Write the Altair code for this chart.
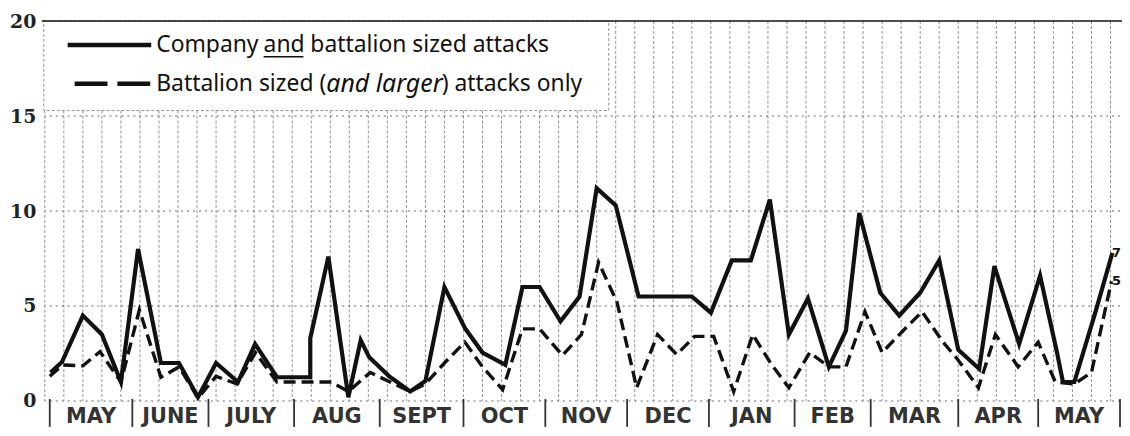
import altair as alt
import pandas as pd

# ---- data (x = week index from the start of May) ----
solid_week = [0.3, 0.9, 2.0, 3.0, 4.0, 4.9, 6.1, 7.05, 8.05, 9.0, 10.15, 11.05, 12.2, 13.95, 13.95,
              14.9, 15.95, 16.6, 17.05, 18.1, 19.2, 20.0, 21.0, 22.1, 23.0, 24.2, 25.1, 26.0, 27.1,
              28.1, 29.0, 30.0, 31.2, 32.0, 33.0, 34.0, 35.0, 36.1, 37.1, 38.1, 39.1, 40.1, 41.2,
              42.1, 42.8, 43.9, 44.9, 46.0, 47.0, 48.0, 49.1, 49.9, 51.2, 52.3, 53.2, 53.5, 54.1,
              55.2, 56.1]
solid_val = [1.5, 2.05, 4.5, 3.5, 1.0, 8.0, 2.0, 2.0, 0.2, 2.0, 1.0, 3.0, 1.25, 1.25, 3.3,
             7.6, 0.2, 3.2, 2.3, 1.3, 0.5, 1.05, 6.0, 3.8, 2.55, 1.9, 6.0, 6.0, 4.2,
             5.5, 11.2, 10.3, 5.5, 5.5, 5.5, 5.5, 4.65, 7.4, 7.4, 10.6, 3.5, 5.4, 1.8,
             3.7, 9.9, 5.7, 4.5, 5.7, 7.4, 2.7, 1.7, 7.1, 3.0, 6.6, 2.5, 1.0, 1.0,
             4.65, 7.8]

dash_week = [0.26, 0.94, 2.0, 2.9, 4.0, 4.97, 6.1, 7.06, 8.05, 9.0, 10.1, 11.07, 12.2, 15.06,
             15.95, 17.1, 19.2, 20.0, 21.0, 22.07, 23.0, 24.06, 25.1, 26.0, 27.2, 28.2, 29.1,
             30.07, 31.1, 32.2, 33.2, 34.15, 35.15, 36.2, 37.2, 38.2, 39.1, 40.2, 41.2, 42.1,
             43.1, 44.0, 45.1, 46.1, 47.2, 47.96, 49.06, 49.95, 51.15, 52.2, 53.1, 54.1, 55.0,
             56.05]
dash_val = [1.3, 1.9, 1.85, 2.6, 1.0, 4.8, 1.25, 1.8, 0.15, 1.3, 0.9, 2.55, 1.0, 1.0,
            0.5, 1.5, 0.5, 0.9, 2.0, 3.1, 1.8, 0.6, 3.8, 3.8, 2.4, 3.5, 7.3,
            5.2, 0.7, 3.5, 2.45, 3.4, 3.4, 0.5, 3.5, 1.9, 0.7, 2.55, 1.8, 1.8,
            4.7, 2.55, 3.7, 4.7, 3.1, 2.2, 0.7, 3.5, 1.8, 3.1, 1.0, 0.9, 1.5,
            6.3]

months = ["MAY", "JUNE", "JULY", "AUG", "SEPT", "OCT", "NOV", "DEC",
          "JAN", "FEB", "MAR", "APR", "MAY"]
month_edges = [0.26, 4.6, 8.6, 13.1, 17.6, 22.0, 26.3, 30.6, 34.9, 39.4, 43.4, 48.0, 52.2, 56.5]
grid_weeks = list(range(0, 57))
y_ticks = [0, 5, 10, 15, 20]
h_grid = [0, 5, 10, 15]
end_labels = ["7", "5"]

# ---- tables ----
solid_df = pd.DataFrame({"week": solid_week, "value": solid_val, "i": range(len(solid_week))})
dash_df = pd.DataFrame({"week": dash_week, "value": dash_val, "i": range(len(dash_week))})
month_df = pd.DataFrame({
    "m": months,
    "c": [(a + b) / 2 for a, b in zip(month_edges[:-1], month_edges[1:])],
})
edge_df = pd.DataFrame({"e": month_edges})
grid_df = pd.DataFrame({"week": grid_weeks})
hgrid_df = pd.DataFrame({"y": h_grid})
top_df = pd.DataFrame({"y": [20]})
end_df = pd.DataFrame({"value": [solid_val[-1], dash_val[-1]], "t": end_labels})
one = pd.DataFrame({"a": [0]})

W, H = 1081, 382
xs = alt.Scale(domain=[0, 56.5], nice=False, zero=False)
ys = alt.Scale(domain=[0, 20], nice=False)

vgrid = alt.Chart(grid_df).mark_rule(color="#777", strokeWidth=0.8, strokeDash=[3, 2]).encode(
    x=alt.X("week:Q", scale=xs, axis=None))

hgrid = alt.Chart(hgrid_df).mark_rule(color="#555", strokeWidth=0.9, strokeDash=[2, 4]).encode(
    y=alt.Y("y:Q", scale=ys,
            axis=alt.Axis(values=y_ticks, labelFont="DejaVu Serif", labelFontWeight="bold",
                          labelFontSize=19, labelColor="#222", ticks=False, domain=False,
                          grid=False, labelPadding=9, title=None)))

legend_box = alt.Chart(one).mark_rect(fill="white", stroke="#777", strokeWidth=0.8,
                                      strokeDash=[3, 2]).encode(
    x=alt.value(-1), x2=alt.value(567), y=alt.value(0), y2=alt.value(90))

top_rule = alt.Chart(top_df).mark_rule(color="#111", strokeWidth=1.6).encode(
    y=alt.Y("y:Q", scale=ys), x=alt.value(-3), x2=alt.value(W + 2))

solid = alt.Chart(solid_df).mark_line(color="#111", strokeWidth=4.2, strokeJoin="miter").encode(
    x=alt.X("week:Q", scale=xs), y=alt.Y("value:Q", scale=ys), order="i:Q")

dashed = alt.Chart(dash_df).mark_line(color="#111", strokeWidth=3.4, strokeDash=[12, 6]).encode(
    x=alt.X("week:Q", scale=xs), y=alt.Y("value:Q", scale=ys), order="i:Q")

end_text = alt.Chart(end_df).mark_text(align="left", baseline="middle", font="DejaVu Sans",
                                       fontWeight="bold", fontSize=13, color="#111").encode(
    x=alt.value(W - 8), y=alt.Y("value:Q", scale=ys), text="t:N")

month_text = alt.Chart(month_df).mark_text(baseline="middle", font="DejaVu Sans", fontWeight="bold",
                                           fontSize=21, color="#333").encode(
    x=alt.X("c:Q", scale=xs), y=alt.value(H + 16), text="m:N")

month_sep = alt.Chart(edge_df).mark_rule(color="#333", strokeWidth=1.8).encode(
    x=alt.X("e:Q", scale=xs), y=alt.value(H - 2), y2=alt.value(H + 26))

# legend samples and text
leg_solid = alt.Chart(one).mark_rule(color="#111", strokeWidth=4.5).encode(
    x=alt.value(23), x2=alt.value(107), y=alt.value(24))
leg_dash = alt.Chart(one).mark_rule(color="#111", strokeWidth=4.5, strokeDash=[33, 10]).encode(
    x=alt.value(30), x2=alt.value(106), y=alt.value(63))

tf = dict(baseline="middle", align="left", font="Noto Sans", fontSize=23, color="#111")
t1 = alt.Chart(one).mark_text(**tf).encode(x=alt.value(112), y=alt.value(24), text=alt.value("Company"))
t2 = alt.Chart(one).mark_text(**tf).encode(x=alt.value(220), y=alt.value(24), text=alt.value("and"))
u2 = alt.Chart(one).mark_rule(color="#111", strokeWidth=1.5).encode(
    x=alt.value(220), x2=alt.value(260), y=alt.value(36))
t3 = alt.Chart(one).mark_text(**tf).encode(x=alt.value(267), y=alt.value(24),
                                          text=alt.value("battalion sized attacks"))
t4 = alt.Chart(one).mark_text(**tf).encode(x=alt.value(112), y=alt.value(63),
                                          text=alt.value("Battalion sized ("))
tf_i = dict(tf, fontSize=25, fontStyle="italic")
t5 = alt.Chart(one).mark_text(**tf_i).encode(x=alt.value(283), y=alt.value(63),
                                            text=alt.value("and larger"))
t6 = alt.Chart(one).mark_text(**tf).encode(x=alt.value(399), y=alt.value(63),
                                          text=alt.value(") attacks only"))

chart = alt.layer(
    vgrid, hgrid, legend_box, top_rule, solid, dashed, end_text, month_text, month_sep,
    leg_solid, leg_dash, t1, t2, u2, t3, t4, t5, t6
).properties(
    width=W, height=H,
    autosize=alt.AutoSizeParams(type="none"),
    padding={"left": 37, "top": 12, "right": 2, "bottom": 26},
    background="white",
).configure_view(stroke=None)

chart.save("out.html", embed_options={"renderer": "svg", "actions": False})
